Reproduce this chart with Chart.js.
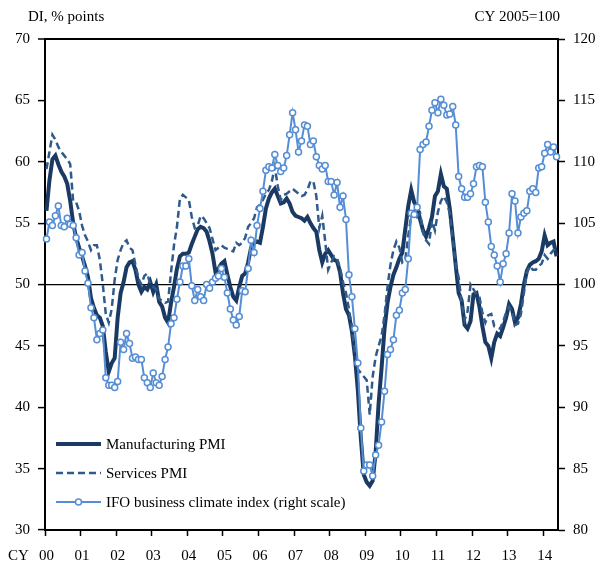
<!DOCTYPE html>
<html>
<head>
<meta charset="utf-8">
<script src="https://cdn.jsdelivr.net/npm/chart.js@4.4.1/dist/chart.umd.min.js"></script>
<style>
  html, body { margin: 0; padding: 0; background: #fff; }
  #wrap { width: 605px; height: 566px; }
</style>
</head>
<body>
<div id="wrap"><canvas id="pmi-chart" width="605" height="566"></canvas></div>
<script>
// monthly, Jan 2000 .. May 2014
const startYear = 2000;
const yearTicks = ["00", "01", "02", "03", "04", "05", "06", "07", "08", "09", "10", "11", "12", "13", "14"];

const manufacturing = [
  56.0, 58.5, 60.2, 60.5, 59.8, 59.2, 58.8, 58.2, 56.8, 55.0, 53.8, 53.0,
  52.3, 51.5, 50.6, 48.9, 48.1, 47.5, 47.3, 46.6, 44.5, 42.9, 43.6, 44.0,
  47.3, 49.3, 50.2, 51.4, 51.8, 51.9, 51.2, 50.0, 49.4, 49.8, 49.6, 50.2,
  49.4, 50.0, 48.6, 48.2, 47.3, 46.9, 48.5, 49.8, 51.3, 52.3, 52.5, 52.5,
  52.6, 53.3, 53.9, 54.5, 54.7, 54.6, 54.3, 53.5, 52.5, 51.0, 51.3, 51.7,
  51.9, 50.8, 49.8, 49.0, 48.7, 49.8, 50.7, 50.9, 51.8, 53.0, 53.4, 53.5,
  53.4, 54.7, 56.2, 57.0, 57.5, 57.8, 57.2, 56.6, 56.7, 57.0, 56.6, 55.9,
  55.6, 55.5, 55.4, 55.2, 55.5, 55.0, 54.6, 54.3, 52.8, 51.8, 52.5, 52.8,
  52.4, 52.0, 51.9, 51.0, 49.3, 48.0, 47.5, 46.2, 44.2, 41.4, 37.5, 34.5,
  33.9, 33.6, 34.0, 36.3, 40.3, 43.2, 46.4, 48.5, 49.8, 50.8, 51.4, 52.1,
  52.6, 54.5, 56.4, 57.7, 56.7, 56.3, 55.3, 54.4, 53.9, 54.6, 55.5, 57.2,
  57.6, 59.0, 58.0, 57.8, 56.2, 53.9, 51.6, 49.3, 48.7, 46.7, 46.4, 47.0,
  49.2, 49.3, 48.2, 46.6, 45.3, 45.0, 44.0, 45.3, 46.0, 45.8, 46.5, 47.3,
  48.4, 48.0, 46.9, 47.3, 48.4, 50.0, 51.1, 51.6, 51.8, 51.9, 52.1, 52.7,
  54.0, 53.2, 53.4, 53.5, 52.3
];

const services = [
  59.4, 60.8, 62.2, 61.8, 61.2, 60.8, 60.5, 60.2, 59.8, 56.8, 56.7, 56.0,
  54.8, 54.0, 53.5, 52.8, 53.2, 53.2, 52.0, 50.0, 47.6, 46.9, 48.0, 50.4,
  52.0, 52.8, 53.4, 53.6, 53.0, 52.8, 51.6, 50.5, 50.0, 50.7, 50.9, 50.0,
  49.8, 49.6, 48.8, 48.7, 48.5, 48.6, 51.0, 53.2, 54.7, 57.0, 57.3, 57.1,
  56.9, 55.5, 54.6, 54.8, 55.6, 55.4, 55.0, 54.6, 53.7, 52.8, 53.0, 53.2,
  53.0, 52.9, 52.8, 52.7, 53.4, 53.2, 53.4, 53.8, 54.7, 55.0, 55.4, 56.3,
  56.5, 56.9, 57.4, 57.7, 58.4, 59.6, 58.0, 56.9, 57.3, 57.4, 57.6, 57.8,
  57.6, 57.4, 57.2, 57.3, 57.7, 58.4, 58.4, 57.2, 54.6, 55.6, 53.5, 51.2,
  51.8, 52.3, 52.1, 51.3, 50.2, 49.3, 48.0, 46.4, 44.5, 43.1, 42.8, 42.5,
  42.2, 39.4, 42.5, 44.1, 45.0, 45.8, 47.5, 49.8, 51.6, 52.8, 53.5, 53.0,
  51.8, 52.0, 54.0, 55.6, 56.0, 55.5, 55.8, 54.2, 53.6, 53.3, 55.2, 54.4,
  55.9, 56.8, 57.2, 56.7, 55.8, 53.7, 51.6, 50.6, 48.5, 47.1, 47.8, 50.0,
  49.6, 49.2, 49.0, 47.7, 46.9, 47.5, 47.6, 46.6, 46.5, 46.4, 47.0, 47.7,
  48.2, 47.8, 46.7, 46.8, 47.6, 49.3, 51.0, 51.5, 51.2, 51.2, 51.5, 51.7,
  52.4, 52.1, 52.5, 52.8, 53.1
];

const ifo = [
  103.7, 105.1, 104.8, 105.6, 106.4, 104.8, 104.7, 105.4, 104.9, 104.8, 103.8, 102.4,
  102.6, 101.1, 100.1, 98.1, 97.3, 95.5, 96.0, 96.3, 92.4, 91.8, 91.8, 91.6,
  92.1, 95.3, 94.7, 96.0, 95.2, 94.0, 94.1, 93.9, 93.9, 92.4, 92.0, 91.6,
  92.8, 92.0, 91.8, 92.5, 93.9, 94.9, 96.8, 97.3, 98.8, 100.2, 101.5, 101.5,
  102.1, 99.9, 98.7, 99.6, 99.0, 98.7, 100.0, 99.7, 100.2, 100.5, 100.7, 101.3,
  100.6, 99.3, 98.0, 97.1, 96.7, 97.4, 99.5, 99.4, 101.3, 103.6, 102.6, 104.8,
  106.2, 107.6, 109.3, 109.6, 109.5, 110.6, 109.7, 109.2, 109.5, 110.5, 112.2, 114.0,
  112.6, 110.8, 111.7, 113.0, 112.9, 111.4, 111.7, 110.4, 109.7, 109.4, 109.7, 108.4,
  108.4, 107.3, 108.3, 106.3, 107.2, 105.3, 100.8, 99.0, 96.4, 93.6, 88.3, 84.8,
  85.3, 85.3, 84.4, 86.1, 86.9, 88.8, 91.3, 94.3, 94.7, 95.5, 97.5, 97.9,
  99.3, 99.6, 102.1, 105.8, 105.7, 106.3, 111.0, 111.4, 111.6, 112.9, 114.2, 114.8,
  114.0, 115.1, 114.6, 113.8, 113.9, 114.5, 113.0, 108.8, 107.8, 107.1, 107.1, 107.4,
  108.2, 109.6, 109.7, 109.6, 106.7, 105.1, 103.1, 102.4, 101.5, 100.2, 101.7, 102.5,
  104.2, 107.4, 106.8, 104.2, 105.5, 105.8, 106.0, 107.6, 107.8, 107.5, 109.5, 109.6,
  110.7, 111.4, 110.8, 111.2, 110.4
];

const months = manufacturing.map((_v, i) =>
  `${startYear + Math.floor(i / 12)}-${String((i % 12) + 1).padStart(2, "0")}`);

const FONT_FAMILY = "'Liberation Serif', 'Times New Roman', serif";
const FONT = "15px " + FONT_FAMILY;

const navy = "#1b3a63";
const dashBlue = "#2f5b8c";
const lightBlue = "#558ed5";

// titles, axis captions and the in-plot legend
const extras = {
  id: "extras",
  afterDraw(chart) {
    const ctx = chart.ctx;
    const area = chart.chartArea;
    ctx.save();
    ctx.font = FONT;
    ctx.fillStyle = "#000";
    ctx.textBaseline = "middle";
    ctx.textAlign = "left";
    ctx.fillText("DI, % points", 28, 17);
    ctx.fillText("CY", 8, 556);
    ctx.textAlign = "right";
    ctx.fillText("CY 2005=100", area.right + 2, 17);

    ctx.textAlign = "left";
    const x0 = area.left + 11;
    const x1 = area.left + 56;
    chart.data.datasets.forEach((ds, i) => {
      const y = area.bottom - 86 + i * 29;
      ctx.beginPath();
      ctx.strokeStyle = ds.borderColor;
      ctx.lineWidth = ds.borderWidth;
      ctx.setLineDash(ds.borderDash || []);
      ctx.moveTo(x0, y);
      ctx.lineTo(x1, y);
      ctx.stroke();
      ctx.setLineDash([]);
      if (ds.pointRadius > 0) {
        ctx.beginPath();
        ctx.arc((x0 + x1) / 2, y, ds.pointRadius, 0, Math.PI * 2);
        ctx.fillStyle = ds.pointBackgroundColor;
        ctx.fill();
        ctx.lineWidth = ds.pointBorderWidth;
        ctx.strokeStyle = ds.pointBorderColor;
        ctx.stroke();
      }
      ctx.fillStyle = "#000";
      ctx.fillText(ds.label, x1 + 5, y + 1);
    });
    ctx.restore();
  },
};

const ctx = document.getElementById("pmi-chart");

new Chart(ctx, {
  type: "line",
  data: {
    labels: months,
    datasets: [
      {
        label: "Manufacturing PMI",
        data: manufacturing,
        borderColor: navy,
        borderWidth: 4,
        pointRadius: 0,
        tension: 0,
        yAxisID: "y",
        order: 3,
      },
      {
        label: "Services PMI",
        data: services,
        borderColor: dashBlue,
        borderWidth: 2.5,
        borderDash: [7, 4],
        pointRadius: 0,
        tension: 0,
        yAxisID: "y",
        order: 2,
      },
      {
        label: "IFO business climate index (right scale)",
        data: ifo,
        borderColor: lightBlue,
        borderWidth: 2,
        pointRadius: 3,
        pointBackgroundColor: "#ffffff",
        pointBorderColor: lightBlue,
        pointBorderWidth: 1.5,
        tension: 0,
        yAxisID: "y1",
        order: 1,
      },
    ],
  },
  options: {
    responsive: false,
    animation: false,
    layout: { padding: { top: 39, left: 0, right: 0, bottom: 0 } },
    plugins: {
      legend: { display: false },
      tooltip: { enabled: false },
    },
    scales: {
      x: {
        type: "category",
        offset: true,
        afterFit: (s) => { s.height = 36; },
        grid: {
          display: true,
          offset: true,
          drawOnChartArea: false,
          drawTicks: true,
          tickLength: 6,
          tickWidth: 1.5,
          tickColor: (c) => (c.index % 12 === 0 ? "#000" : "rgba(0,0,0,0)"),
        },
        border: { display: true, color: "#000", width: 2 },
        ticks: {
          autoSkip: false,
          maxRotation: 0,
          minRotation: 0,
          padding: 11,
          color: "#000",
          font: { family: FONT_FAMILY, size: 15 },
          callback: (_value, index) => (index % 12 === 0 ? yearTicks[index / 12] : ""),
        },
      },
      y: {
        position: "left",
        min: 30,
        max: 70,
        afterFit: (s) => { s.width = 45; },
        ticks: {
          stepSize: 5,
          padding: 8,
          color: "#000",
          font: { family: FONT_FAMILY, size: 15 },
        },
        grid: {
          drawTicks: true,
          tickLength: 7,
          tickColor: "#000",
          tickWidth: 1.5,
          color: (c) => (c.tick && (c.tick.value === 50 || c.tick.value === 70) ? "#000" : "rgba(0,0,0,0)"),
          lineWidth: (c) => (c.tick && c.tick.value === 70 ? 2 : 1.2),
        },
        border: { display: true, color: "#000", width: 2 },
      },
      y1: {
        position: "right",
        min: 80,
        max: 120,
        afterFit: (s) => { s.width = 47; },
        ticks: {
          stepSize: 5,
          padding: 8,
          color: "#000",
          font: { family: FONT_FAMILY, size: 15 },
        },
        grid: {
          drawOnChartArea: false,
          drawTicks: true,
          tickLength: 7,
          tickColor: "#000",
          tickWidth: 1.5,
        },
        border: { display: true, color: "#000", width: 2 },
      },
    },
  },
  plugins: [extras],
});
</script>
</body>
</html>
